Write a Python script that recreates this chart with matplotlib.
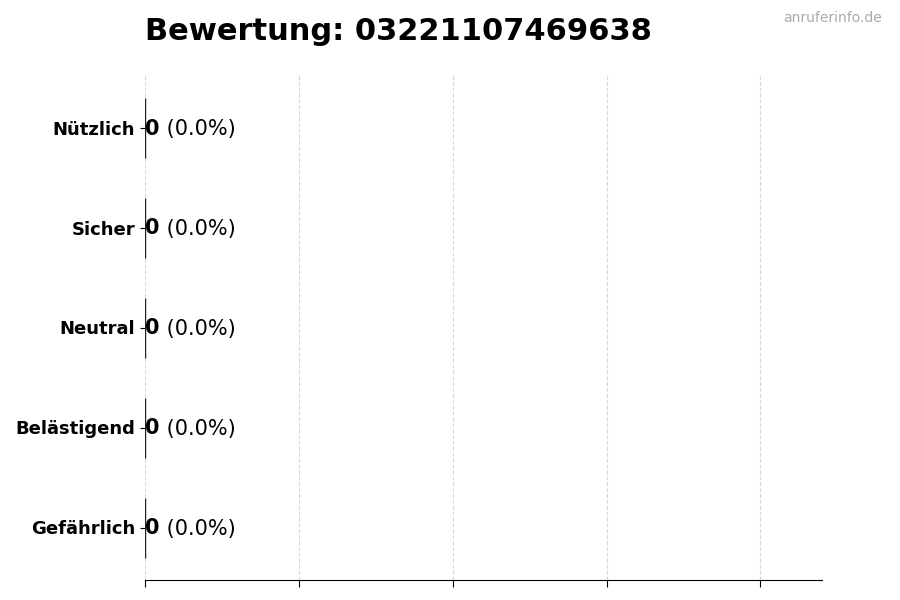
import matplotlib
matplotlib.use("Agg")
import matplotlib.pyplot as plt

categories = ["Gefährlich", "Belästigend", "Neutral", "Sicher", "Nützlich"]
counts = [0, 0, 0, 0, 0]
percents = [0.0, 0.0, 0.0, 0.0, 0.0]
title = "Bewertung: 03221107469638"
watermark = "anruferinfo.de"

fig = plt.figure(figsize=(9, 6), dpi=100)
ax = fig.add_axes([145/900, 20/600, (822-145)/900, (580-75)/600])

ypos = list(range(len(categories)))
ax.barh(ypos, counts, height=0.6, color="#d62728", edgecolor="#222222", linewidth=1.0, zorder=3)

ax.set_yticks(ypos)
ax.set_yticklabels(categories, fontsize=13, fontweight="bold")
ax.set_ylim(-0.525, 4.525)
ax.set_xlim(0, 1.1)
ax.set_xticks([0, 0.25, 0.5, 0.75, 1.0])
ax.set_xticklabels([])
ax.grid(axis="x", linestyle="--", color="#d8d8d8", linewidth=0.8, zorder=0)
ax.set_axisbelow(True)
for s in ["top", "right", "left"]:
    ax.spines[s].set_visible(False)
ax.tick_params(axis="y", length=3.5, width=0.8, pad=3.5)
ax.tick_params(axis="x", length=5, width=0.8)

for y, c, p in zip(ypos, counts, percents):
    t = ax.text(c, y - 0.01, f"{c}", fontsize=15, fontweight="bold", va="center", ha="left", zorder=4)
    ax.annotate(f" ({p:.1f}%)", xy=(1, 0.5), xycoords=t, fontsize=15,
                va="center", ha="left", zorder=4)

fig.text(145/900, 1 - 40/600, title, fontsize=22, fontweight="bold", ha="left", va="baseline")
fig.text(882/900, 1 - 18/600, watermark, fontsize=10, color="#aaaaaa", ha="right", va="center")

fig.savefig("out.png", dpi=100)
